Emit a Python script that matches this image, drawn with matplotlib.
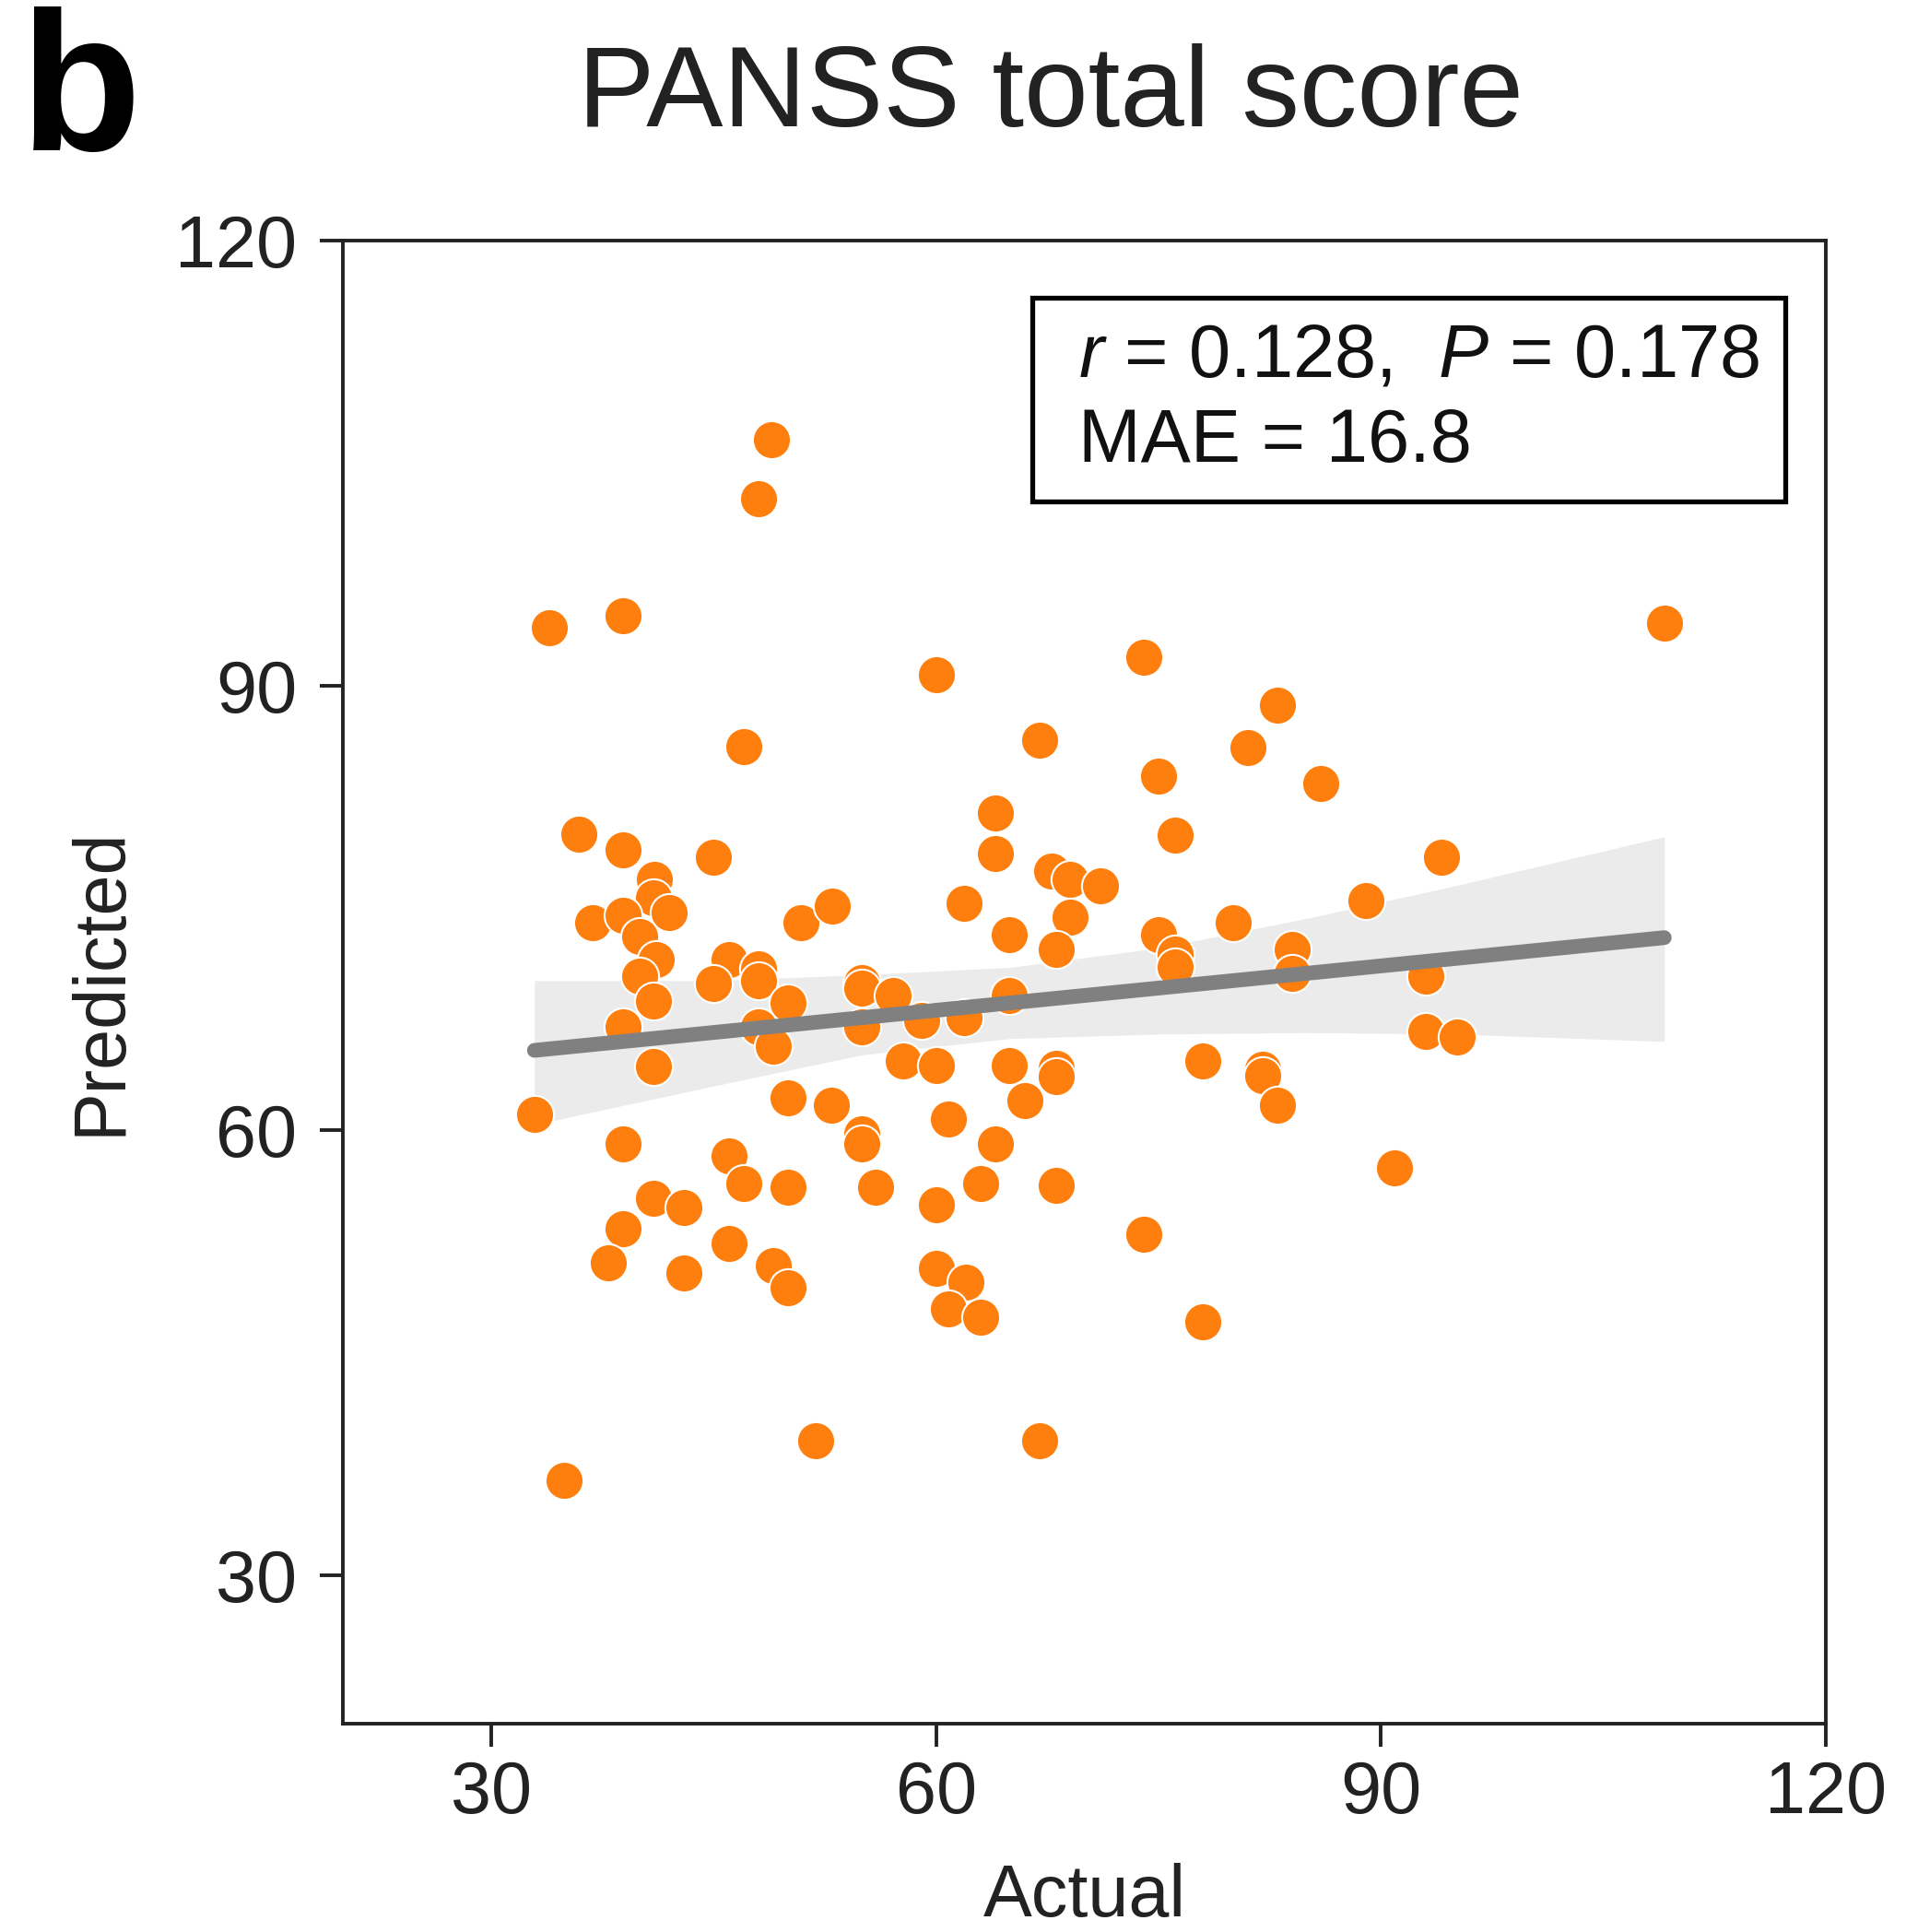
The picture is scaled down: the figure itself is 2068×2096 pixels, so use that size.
import numpy as np
import matplotlib
matplotlib.use("Agg")
import matplotlib.pyplot as plt
from matplotlib.patches import Rectangle

plt.rcParams['font.family'] = ['Liberation Sans', 'DejaVu Sans']
plt.rcParams['mathtext.fontset'] = 'custom'
plt.rcParams['mathtext.rm'] = 'Liberation Sans'
plt.rcParams['mathtext.it'] = 'Liberation Sans:italic'

# actual vs predicted PANSS total score
actual = [48.9, 48.0, 33.9, 38.9, 109.1, 60.0, 74.0, 83.0, 47.0, 67.0,
          81.0, 85.9, 75.0, 35.9, 38.9, 45.0, 76.1, 64.0, 64.0, 94.1,
          41.0, 40.9, 36.8, 38.9, 42.0, 40.0, 50.9, 53.0, 61.9, 67.8,
          69.0, 71.1, 69.0, 64.9, 68.1, 89.0, 75.0, 76.1, 76.1, 80.0,
          84.0, 84.0, 41.1, 40.0, 46.0, 45.0, 48.0, 48.0, 50.0, 40.9,
          38.9, 48.0, 49.0, 55.0, 55.0, 55.0, 57.1, 59.0, 61.9, 64.9,
          93.0, 93.0, 95.1, 40.9, 57.8, 60.0, 64.9, 66.0, 68.1, 68.1,
          78.0, 82.0, 82.0, 83.0, 50.0, 52.9, 32.9, 60.8, 38.9, 55.0,
          55.0, 64.0, 46.0, 47.0, 50.0, 55.9, 63.0, 68.1, 90.9, 40.9,
          43.0, 60.0, 38.9, 37.9, 46.0, 43.0, 49.0, 50.0, 74.0, 60.0,
          62.0, 60.8, 63.0, 78.0, 51.9, 67.0, 34.9]
predicted = [106.6, 102.6, 93.9, 94.7, 94.2, 90.7, 91.9, 88.7, 85.9, 86.3,
             85.8, 83.4, 83.9, 80.0, 78.9, 78.4, 79.9, 81.4, 78.7, 78.4,
             76.9, 75.7, 74.0, 74.5, 74.7, 73.1, 74.0, 75.1, 75.3, 77.5,
             76.9, 76.5, 74.4, 73.2, 72.2, 75.5, 73.2, 71.9, 71.0, 74.0,
             72.2, 70.6, 71.5, 70.4, 71.5, 69.9, 70.9, 70.1, 68.6, 68.7,
             67.0, 67.0, 65.7, 70.0, 69.6, 67.0, 69.1, 67.4, 67.6, 69.1,
             70.4, 66.7, 66.3, 64.3, 64.7, 64.4, 64.4, 62.0, 64.2, 63.6,
             64.7, 64.1, 63.7, 61.7, 62.2, 61.7, 61.1, 60.8, 59.1, 59.8,
             59.1, 59.1, 58.3, 56.4, 56.2, 56.2, 56.4, 56.3, 57.5, 55.4,
             54.8, 55.0, 53.4, 51.1, 52.4, 50.4, 50.9, 49.4, 53.0, 50.7,
             49.8, 48.0, 47.4, 47.1, 39.1, 39.1, 36.4]

# regression line and its confidence band
fit_x = [32.9, 109.1]
fit_y = [65.4, 73.0]
band_x = [32.9, 45, 55, 65, 75, 85, 95, 109.1]
band_lo = [60.4, 63.0, 65.1, 66.2, 66.5, 66.6, 66.5, 66.0]
band_hi = [70.1, 70.1, 70.5, 71.0, 72.3, 74.3, 76.5, 79.8]

ticks = [30, 60, 90, 120]
stats_line1 = r"$r$ = 0.128,  $P$ = 0.178"
stats_line2 = "MAE = 16.8"

fig = plt.figure(figsize=(20.68, 20.96), dpi=100)
ax = fig.add_axes([0.180, 0.1078, 0.778, 0.7677])

ax.fill_between(band_x, band_lo, band_hi, color="#ebebeb", lw=0, zorder=1)
ax.scatter(actual, predicted, s=880, color="#ff7f0e", edgecolor="white",
           linewidth=1.5, zorder=2)
ax.plot(fit_x, fit_y, color="#808080", lw=11.5, solid_capstyle="round",
        zorder=3)

ax.set_xlim(20, 120)
ax.set_ylim(20, 120)
ax.set_xticks(ticks)
ax.set_yticks(ticks)
for s in ax.spines.values():
    s.set_linewidth(2.8)
    s.set_color("#222222")
ax.tick_params(axis="both", length=18, width=2.8, color="#222222",
               labelsize=57, labelcolor="#222222")
ax.tick_params(axis="x", pad=10)
ax.tick_params(axis="y", pad=18)

# stats box
ax.add_patch(Rectangle((0.4646, 0.824), 0.508, 0.1375, transform=ax.transAxes,
                       fill=False, lw=3.8, edgecolor="black", zorder=4))
ax.text(0.4957, 0.908, stats_line1, transform=ax.transAxes, fontsize=58.5,
        va="baseline", ha="left", color="#111111", zorder=5)
ax.text(0.4957, 0.851, stats_line2, transform=ax.transAxes, fontsize=58.5,
        va="baseline", ha="left", color="#111111", zorder=5)

fig.text(0.569, 0.008, "Actual", fontsize=57, ha="center", va="baseline",
         color="#222222")
fig.text(0.0532, 0.492, "Predicted", fontsize=57, rotation=90, ha="center",
         va="center", color="#222222")
fig.text(0.551, 0.9346, "PANSS total score", fontsize=90, ha="center",
         va="baseline", color="#222222")
fig.text(0.0106, 0.9222, "b", fontsize=155, fontweight="bold", ha="left",
         va="baseline", color="black")

fig.savefig("out.png", dpi=100)
